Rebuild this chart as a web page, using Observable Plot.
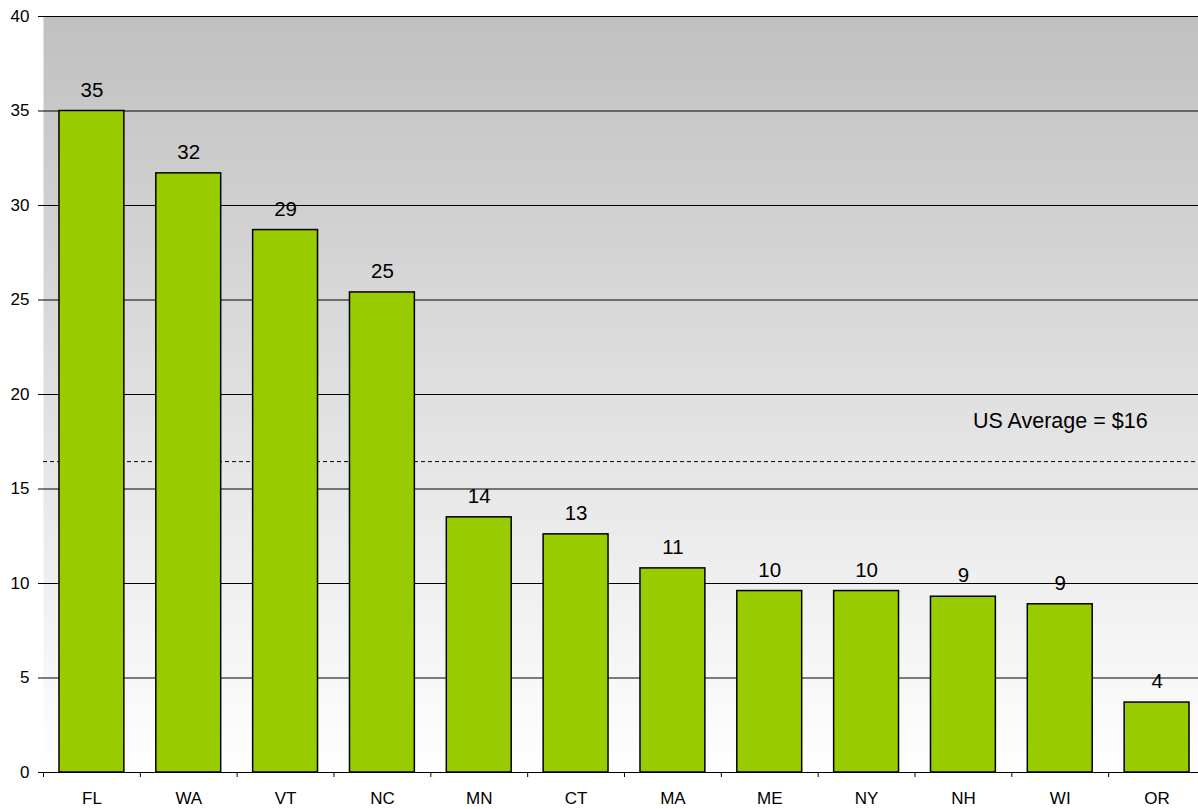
<!DOCTYPE html>
<html>
<head>
<meta charset="utf-8">
<script src="https://cdn.jsdelivr.net/npm/d3@7"></script>
<script src="https://cdn.jsdelivr.net/npm/@observablehq/plot@0.6"></script>
<style>
  html, body { margin: 0; padding: 0; background: #fff; overflow: hidden; }
  #chart { width: 1198px; height: 809px; overflow: hidden; }
  #chart svg { max-width: none !important; }
</style>
</head>
<body>
<div id="chart"></div>
<script>
const states = ["FL", "WA", "VT", "NC", "MN", "CT", "MA", "ME", "NY", "NH", "WI", "OR"];
const values = [35.0, 31.7, 28.7, 25.4, 13.5, 12.6, 10.8, 9.6, 9.6, 9.3, 8.9, 3.7];
const labels = ["35", "32", "29", "25", "14", "13", "11", "10", "10", "9", "9", "4"];
const yTicks = [0, 5, 10, 15, 20, 25, 30, 35, 40];
const gridTicks = [5, 10, 15, 20, 25, 30, 35, 40];
const usAverage = 16.45;
const usAverageLabel = "US Average = $16";
const usAverageLabelState = "WI";

const data = states.map((s, i) => ({state: s, value: values[i], label: labels[i]}));

const W = 1205, H = 809;
const mL = 43, mR = 0, mT = 16, mB = 37;
const step = (W - mL - mR) / states.length;

const plot = Plot.plot({
  width: W,
  height: H,
  marginLeft: mL,
  marginRight: mR,
  marginTop: mT,
  marginBottom: mB,
  style: {fontFamily: "'Liberation Sans', Arial, sans-serif", color: "#000", background: "#fff", maxWidth: "none"},
  x: {domain: states, paddingInner: 0.33, paddingOuter: 0.165, round: false, label: null},
  y: {domain: [0, 40], label: null},
  marks: [
    Plot.frame({fill: "url(#bgGrad)", stroke: "none"}),
    Plot.gridY(gridTicks, {stroke: "#000", strokeOpacity: 1, strokeWidth: 1}),
    Plot.ruleY([usAverage], {stroke: "#000", strokeWidth: 1, strokeDasharray: "4,3"}),
    Plot.barY(data, {x: "state", y: "value", fill: "#99cc00", stroke: "#000", strokeWidth: 1.5}),
    Plot.ruleY([0], {stroke: "#000", strokeWidth: 1}),
    Plot.axisY(yTicks, {tickSize: 5, tickPadding: 9, fontSize: 17, line: true, stroke: "#000", label: null}),
    Plot.axisX({tickSize: 0, tickPadding: 19, fontSize: 17, label: null}),
    Plot.tickX(states, {x: d => d, dx: -step / 2, insetTop: H - mT - mB, insetBottom: -5, stroke: "#000"}),
    Plot.text(data, {x: "state", y: "value", text: "label", dy: -21, fontSize: 20.5, fill: "#000"}),
    Plot.text([usAverageLabel], {x: () => usAverageLabelState, y: () => usAverage, text: d => d, dy: -40, fontSize: 21.5, fill: "#000"})
  ]
});

const svg = d3.select(plot);
const defs = svg.insert("defs", ":first-child");
const g = defs.append("linearGradient").attr("id", "bgGrad").attr("x1", 0).attr("y1", 0).attr("x2", 0).attr("y2", 1);
g.append("stop").attr("offset", "0%").attr("stop-color", "#c0c0c0");
g.append("stop").attr("offset", "100%").attr("stop-color", "#ffffff");

document.getElementById("chart").appendChild(plot);
</script>
</body>
</html>
